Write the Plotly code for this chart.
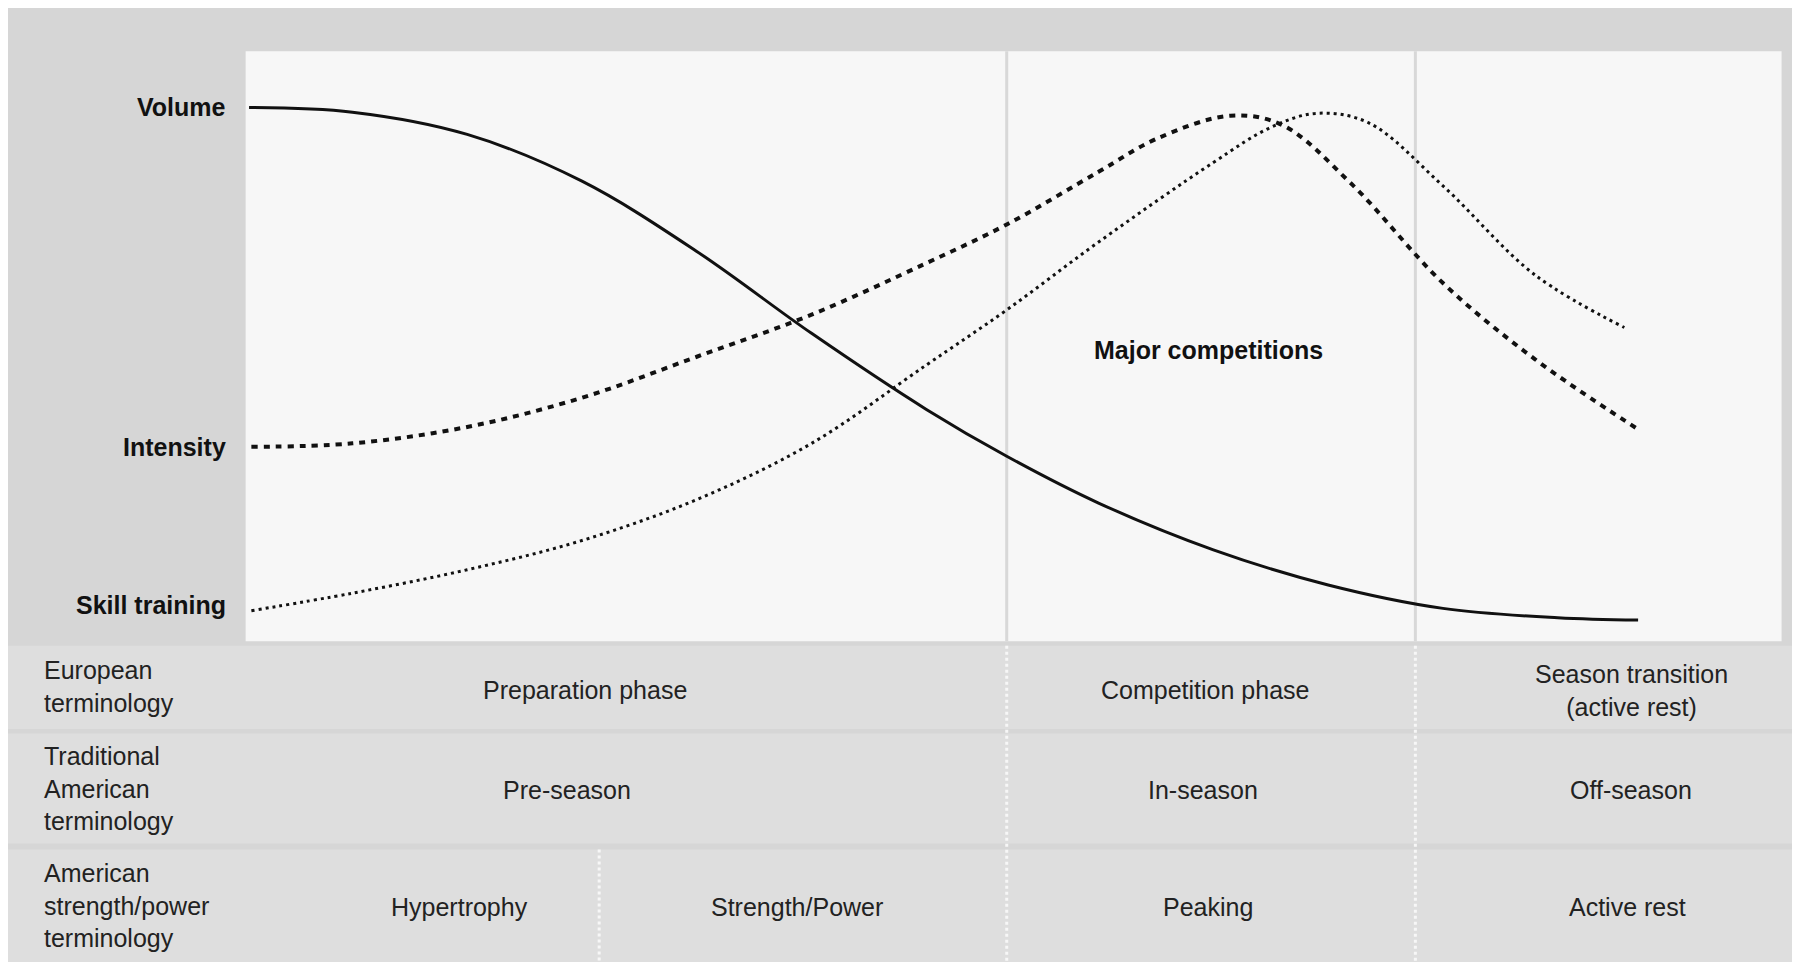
import plotly.graph_objects as go

# curve values (x and y in reference pixel units)
volume_x = [210, 300, 400, 500, 600, 700, 800, 870, 950, 1050, 1150, 1250, 1350, 1420]
volume_y = [85, 89, 108, 148, 208, 278, 343, 383, 423, 463, 493, 513, 521, 523]

intensity_x = [212, 300, 400, 500, 600, 700, 800, 870, 950, 1000, 1065, 1110, 1170, 1250, 1330, 1420]
intensity_y = [375, 372, 358, 333, 298, 262, 218, 185, 140, 112, 92, 100, 150, 235, 300, 360]

skill_x = [212, 300, 400, 500, 600, 700, 800, 870, 950, 1050, 1100, 1140, 1185, 1250, 1330, 1408]
skill_y = [515, 500, 480, 455, 420, 372, 305, 258, 200, 132, 102, 90, 98, 152, 228, 273]

curve_labels = ["Volume", "Intensity", "Skill training"]
curve_label_y = [85, 375, 510]

row_labels = ["European<br>terminology", "Traditional<br>American<br>terminology",
              "American<br>strength/power<br>terminology"]
row_y = [580, 667, 767]
row_texts = [
    [("Preparation phase", 503), ("Competition phase", 1043), ("Season transition<br>(active rest)", 1414)],
    [("Pre-season", 487), ("In-season", 1041), ("Off-season", 1414)],
    [("Hypertrophy", 393), ("Strength/Power", 687), ("Peaking", 1045), ("Active rest", 1411)],
]

fig = go.Figure()
fig.add_trace(go.Scatter(x=volume_x, y=volume_y, mode="lines", line=dict(color="#111", width=3, shape="spline")))
fig.add_trace(go.Scatter(x=intensity_x, y=intensity_y, mode="lines", line=dict(color="#111", width=4, dash="6px,6px", shape="spline")))
fig.add_trace(go.Scatter(x=skill_x, y=skill_y, mode="lines", line=dict(color="#111", width=3, dash="3px,4px", shape="spline")))

shapes = [
    dict(type="rect", x0=207, x1=1545, y0=37, y1=541, fillcolor="#f7f7f7", line_width=0, layer="below"),
    dict(type="rect", x0=0, x1=1568, y0=545, y1=616, fillcolor="#dedede", line_width=0, layer="below"),
    dict(type="rect", x0=0, x1=1568, y0=620, y1=714, fillcolor="#dedede", line_width=0, layer="below"),
    dict(type="rect", x0=0, x1=1568, y0=719, y1=822, fillcolor="#dedede", line_width=0, layer="below"),
]
for xv in [870, 1226]:
    shapes.append(dict(type="line", x0=xv, x1=xv, y0=37, y1=541, line=dict(color="#d8d8d8", width=3), layer="below"))
    shapes.append(dict(type="line", x0=xv, x1=xv, y0=545, y1=822, line=dict(color="#f7f7f7", width=3, dash="dot"), layer="below"))
shapes.append(dict(type="line", x0=515, x1=515, y0=719, y1=822, line=dict(color="#f7f7f7", width=3, dash="dot"), layer="below"))

ann = []
for t, yv in zip(curve_labels, curve_label_y):
    ann.append(dict(x=192, y=yv, text="<b>%s</b>" % t, xanchor="right", showarrow=False,
                    font=dict(size=25, color="#111")))
ann.append(dict(x=1046, y=292, text="<b>Major competitions</b>", showarrow=False, font=dict(size=25, color="#111")))
for t, yv in zip(row_labels, row_y):
    ann.append(dict(x=30, y=yv, text=t, xanchor="left", align="left", showarrow=False,
                    font=dict(size=25, color="#222")))
for items, yv in zip(row_texts, [583, 668, 768]):
    for t, xv in items:
        ann.append(dict(x=xv, y=yv, text=t, showarrow=False, font=dict(size=25, color="#222")))

fig.update_layout(
    width=1800, height=962, autosize=False,
    margin=dict(l=0, r=0, t=0, b=0),
    paper_bgcolor="#d6d6d6", plot_bgcolor="#d6d6d6",
    showlegend=False,
    font=dict(family="Liberation Sans, Arial"),
    xaxis=dict(range=[0, 1568], visible=False, fixedrange=True),
    yaxis=dict(range=[822, 0], visible=False, fixedrange=True),
    shapes=shapes, annotations=ann,
)
fig.write_html("out.html")
